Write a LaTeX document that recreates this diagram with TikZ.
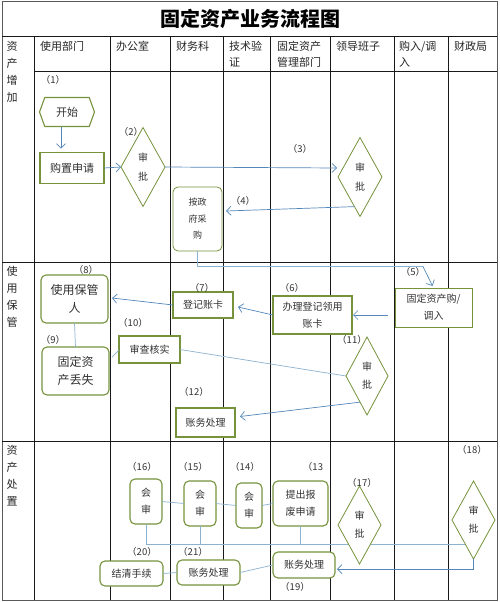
\documentclass[tikz,border=0pt]{standalone}
\usepackage{fontspec}
\setmainfont{Noto Sans CJK SC}
\usetikzlibrary{shapes.geometric,shapes.symbols,arrows.meta,calc}
\definecolor{boxgreen}{RGB}{118,146,60}
\definecolor{arrowblue}{RGB}{84,135,185}
\definecolor{lineblue}{RGB}{140,178,208}
\definecolor{txt}{RGB}{50,50,50}
\definecolor{gridc}{RGB}{25,25,25}
\newcommand\myfs[2]{\fontsize{#1}{#2}\selectfont}
\begin{document}
\begin{tikzpicture}[x=1pt,y=-1pt,
  every node/.style={inner sep=0pt, outer sep=0pt, text=txt, align=center},
  hd/.style={font=\myfs{11}{16}, align=left, text=black!85},
  box/.style={draw=boxgreen, line width=1.1pt, fill=white, rectangle},
  rbox/.style={box, rounded corners=5pt},
  dia/.style={draw=boxgreen, line width=0.8pt, fill=white, diamond, shape aspect=0.55, font=\myfs{10}{19}},
  lab/.style={font=\myfs{9.5}{11}, text=black!80},
  arr/.style={draw=arrowblue, line width=0.7pt, -{Straight Barb[length=4.5pt,width=9pt]}},
  ln/.style={draw=lineblue, line width=0.7pt},
  gridline/.style={draw=gridc, line width=0.8pt}]
\useasboundingbox (0,0) rectangle (500,602);
\fill[white] (0,0) rectangle (500,602);
% grid
\draw[gridline, draw=gray!70!black, line width=1pt] (2,2) rectangle (497,600);
\draw[gridline] (2,36) -- (497,36);
\draw[gridline] (34,71) -- (497,71);
\draw[gridline] (2,262) -- (497,262);
\draw[gridline] (2,441) -- (497,441);
\foreach \x in {34,110,170,223,270,330,394,448} \draw[gridline] (\x,36) -- (\x,600);
% title
\node[font=\myfs{20}{24}\bfseries, text=black] (title) at (250,19) {固定资产业务流程图};
% headers
\node[hd, anchor=west] (h1) at (40,46) {使用部门};
\node[hd, anchor=west] (h2) at (116,46) {办公室};
\node[hd, anchor=west] (h3) at (176,46) {财务科};
\node[hd, anchor=west] (h4) at (229,54) {技术验\\证};
\node[hd, anchor=west] (h5) at (277,54) {固定资产\\管理部门};
\node[hd, anchor=west] (h6) at (336,46) {领导班子};
\node[hd, anchor=west] (h7) at (399,54) {购入/调\\入};
\node[hd, anchor=west] (h8) at (454,46) {财政局};
\node[hd, font=\myfs{11}{17}, align=center] (s1) at (12,71.5) {资\\产\\增\\加};
\node[hd, font=\myfs{11}{17}, align=center] (s2) at (12,297) {使\\用\\保\\管};
\node[hd, font=\myfs{11}{17}, align=center] (s3) at (12,475.5) {资\\产\\处\\置};
% ---------- row 1 ----------
\node[draw=boxgreen, line width=1.1pt, fill=white, signal, signal to=west and east, signal pointer angle=140,
      minimum width=55pt, minimum height=29pt, font=\myfs{11}{13}] (start) at (67,112) {开始};
\node[box, minimum width=64pt, minimum height=31pt, font=\myfs{11}{13}] (buy) at (72,168) {购置申请};
\node[dia, minimum width=44pt, minimum height=79pt] (d2) at (143,167) {审\\批};
\node[dia, minimum width=44pt, minimum height=79pt] (d3) at (360,177) {审\\批};
\node[rbox, line width=0.8pt, minimum width=49pt, minimum height=64pt, font=\myfs{9}{16.5}] (gov) at (197.5,219) {按政\\府采\\购};
% ---------- row 2 ----------
\node[box, line width=0.9pt, minimum width=77pt, minimum height=39pt, font=\myfs{10}{17}] (buyin) at (433.5,307.5) {固定资产购/\\调入};
\node[box, minimum width=79pt, minimum height=38pt, font=\myfs{10}{17}] (reg6) at (312.5,315) {办理登记领用\\账卡};
\node[box, minimum width=60pt, minimum height=26pt, font=\myfs{10}{12}] (card) at (203,305) {登记账卡};
\node[rbox, minimum width=67pt, minimum height=48pt, font=\myfs{12}{18}] (user) at (74.5,299) {使用保管\\人};
\node[rbox, minimum width=67pt, minimum height=48pt, font=\myfs{12}{18}] (lost) at (75.5,371) {固定资\\产丢失};
\node[box, minimum width=61pt, minimum height=27pt, font=\myfs{10}{12}] (check) at (149.5,349.5) {审查核实};
\node[dia, minimum width=42pt, minimum height=78pt, font=\myfs{10}{18}] (d11) at (367,376) {审\\批};
\node[box, minimum width=59pt, minimum height=29pt, font=\myfs{10}{12}] (acct12) at (205.5,422.5) {账务处理};
% ---------- row 3 ----------
\node[rbox, minimum width=32pt, minimum height=45pt, font=\myfs{10}{17}] (a16) at (146,501.5) {会\\审};
\node[rbox, minimum width=32pt, minimum height=45pt, font=\myfs{10}{17}] (a15) at (200,503.5) {会\\审};
\node[rbox, minimum width=26pt, minimum height=45pt, font=\myfs{10}{17}] (a14) at (249,505.5) {会\\审};
\node[rbox, minimum width=55pt, minimum height=45pt, font=\myfs{10}{17}] (rep13) at (300.5,503.5) {提出报\\废申请};
\node[rbox, minimum width=62pt, minimum height=26pt, font=\myfs{10}{12}] (acct19) at (304,565) {账务处理};
\node[rbox, minimum width=63pt, minimum height=25pt, font=\myfs{10}{12}] (acct21) at (208.5,572.5) {账务处理};
\node[rbox, minimum width=63pt, minimum height=25pt, font=\myfs{10}{12}] (settle) at (131.5,573.5) {结清手续};
% row 3 lines (behind diamonds)
\coordinate (c18) at (465,544);
\draw[ln] (a16.east) -- (a15.west);
\draw[ln] (a15.east) -- (a14.west);
\draw[ln] (a14.east) -- (rep13.west);
\draw[ln] (a16.south) |- (c18);
\draw[ln] (a15.south) -- (a15.south |- c18);
\draw[ln] (rep13.south) -- (rep13.south |- c18);
\node[dia, minimum width=43pt, minimum height=78pt, font=\myfs{10}{18}] (d17) at (359.5,525) {审\\批};
\node[dia, minimum width=43pt, minimum height=78pt, font=\myfs{10}{18}] (d18) at (473.5,520) {审\\批};
% labels
\node[lab] (l1) at (53,80) {（1）};
\node[lab] (l2) at (131,132) {（2）};
\node[lab] (l3) at (300,149) {（3）};
\node[lab] (l4) at (243,201) {（4）};
\node[lab] (l5) at (413,272) {（5）};
\node[lab] (l6) at (292,288) {（6）};
\node[lab] (l7) at (202,288) {（7）};
\node[lab] (l8) at (86,270) {（8）};
\node[lab] (l9) at (53,340) {（9）};
\node[lab] (l10) at (133,323) {（10）};
\node[lab] (l11) at (352,340) {（11）};
\node[lab] (l12) at (194,392) {（12）};
\node[lab] (l13) at (313,467) {（13};
\node[lab] (l14) at (245,467) {（14）};
\node[lab] (l15) at (193,467) {（15）};
\node[lab] (l16) at (142,467) {（16）};
\node[lab] (l17) at (362,483) {（17）};
\node[lab] (l18) at (472,450) {（18）};
\node[lab] (l19) at (295,587) {（19）};
\node[lab] (l20) at (142,552) {（20）};
\node[lab] (l21) at (193,552) {（21）};
% ---------- connectors ----------
\draw[arr] ($(start.south)+(-6,0)$) -- ($(buy.north)+(-11,-4)$);
\draw[arr] (buy.east) -- (d2.west);
\draw[arr] (d2.east) -- ($(d3.west)+(-1,-9)$);
\draw[arr] ($(d3.south)!0.25!(d3.west)$) -- ($(gov.east)+(4,-8)$);
\coordinate (c5) at (423,266.5);
\draw[ln] (gov.south) |- (c5);
\draw[arr] (c5) -- ($(buyin.north)+(-1,-2)$);
\draw[arr] ($(buyin.west)+(-7,7.5)$) -- ($(reg6.east)+(1,0)$);
\draw[arr] (reg6.west) -- ($(card.east)+(5,2)$);
\draw[arr] (card.west) -- ($(user.east)+(4,-1)$);
\draw[ln] (user.south) -- (lost.north);
\draw[ln] ($(lost.east)+(3,-14)$) -- ($(check.west)+(0,0.5)$);
\draw[ln] (check.east) -- (d11.west);
\draw[arr] ($(d11.south)!0.33!(d11.west)$) -- ($(acct12.east)+(5,-6)$);
\draw[arr] (d18.south) |- ($(acct19.east)+(2,4)$);
\draw[ln] (acct19.west) -- (acct21.east);
\draw[ln] (acct21.west) -- (settle.east);
\end{tikzpicture}
\end{document}
